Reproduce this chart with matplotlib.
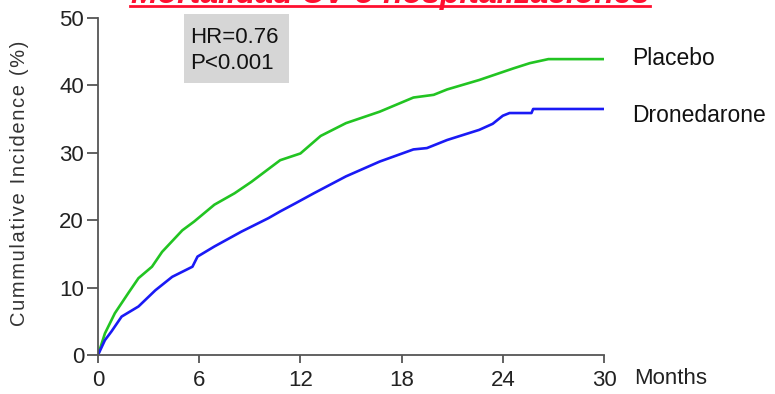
import matplotlib.pyplot as plt
from matplotlib.lines import Line2D
from matplotlib.patches import Rectangle

plt.rcParams['font.family'] = ['Liberation Sans', 'DejaVu Sans']

# cumulative incidence (%), months on x
placebo_t = [0, 0.41, 1.0, 1.8, 2.4, 3.2, 3.8, 5.0, 5.7, 6.9, 8.1, 9.1, 10.8, 12.0,
             13.2, 14.7, 16.7, 18.7, 19.9, 20.7, 22.6, 24.6, 25.6, 26.7, 30]
placebo_v = [0, 3.2, 6.2, 9.2, 11.4, 13.1, 15.3, 18.5, 19.8, 22.3, 24.0, 25.7, 28.9, 29.9,
             32.5, 34.4, 36.1, 38.2, 38.6, 39.4, 40.8, 42.5, 43.3, 43.9, 43.9]

drone_t = [0, 0.41, 0.8, 1.4, 2.4, 3.4, 4.4, 5.6, 5.9, 6.9, 8.5, 10.1, 10.8, 11.7,
           12.8, 14.7, 16.7, 18.7, 19.5, 20.7, 22.6, 23.4, 24.0, 24.4, 25.7, 25.8, 30]
drone_v = [0, 2.2, 3.5, 5.7, 7.2, 9.6, 11.6, 13.1, 14.6, 16.1, 18.3, 20.3, 21.3, 22.5,
           24.0, 26.5, 28.7, 30.5, 30.7, 31.9, 33.4, 34.3, 35.5, 35.9, 35.9, 36.5, 36.5]

xticks = [0, 6, 12, 18, 24, 30]
yticks = [0, 10, 20, 30, 40, 50]

W, H = 775, 394
fig = plt.figure(figsize=(7.75, 3.94), dpi=100)
ax = fig.add_axes([98/W, 1 - 355/H, 506/W, 337/H])

ax.plot(placebo_t, placebo_v, color='#22c422', lw=1.9)
ax.plot(drone_t, drone_v, color='#1a1af5', lw=1.9)

ax.set_xlim(0, 30)
ax.set_ylim(0, 50)
ax.set_xticks(xticks)
ax.set_yticks(yticks)
for s in ['top', 'right']:
    ax.spines[s].set_visible(False)
for s in ['left', 'bottom']:
    ax.spines[s].set_color('#555555')
    ax.spines[s].set_linewidth(1.3)
ax.tick_params(direction='out', width=1.3, color='#555555',
               labelsize=16, labelcolor='#222222')
ax.tick_params(axis='y', length=8, pad=2)
ax.tick_params(axis='x', length=6, pad=5)

# y label with a bit of letter spacing, like the original
ylab = '\u200a'.join('Cummulative Incidence (%)')
fig.text(20/W, 1 - 183/H, ylab, rotation=90, fontsize=14.5, color='#333333',
         ha='center', va='center')

fig.text(634/W, 1 - 378/H, 'Months', fontsize=16, color='#222222', va='center', ha='left')
fig.text(632/W, 1 - 65/H, 'Placebo', fontsize=16.5, color='#111111', va='baseline', ha='left')
fig.text(632/W, 1 - 121.5/H, 'Dronedarone', fontsize=16.5, color='#111111',
         va='baseline', ha='left')

# HR box
fig.add_artist(Rectangle((184/W, 1 - 83/H), 105/W, 69/H, transform=fig.transFigure,
                         facecolor='#d6d6d6', edgecolor='none'))
fig.text(190/W, 1 - 43/H, 'HR=0.76', fontsize=16, color='#111111', va='baseline', ha='left')
fig.text(190/W, 1 - 69/H, 'P<0.001', fontsize=16, color='#111111', va='baseline', ha='left')

# title, mostly cut off at the top edge
fig.text(390/W, 1 - 3/H, 'Mortalidad CV o hospitalizaciones', fontsize=23,
         fontweight='bold', fontstyle='italic', color='#ff1030', ha='center', va='baseline')
fig.add_artist(Line2D([130/W, 650/W], [1 - 5.5/H] * 2, transform=fig.transFigure,
                      color='#ff1030', lw=2))

fig.savefig('out.png', dpi=100)
